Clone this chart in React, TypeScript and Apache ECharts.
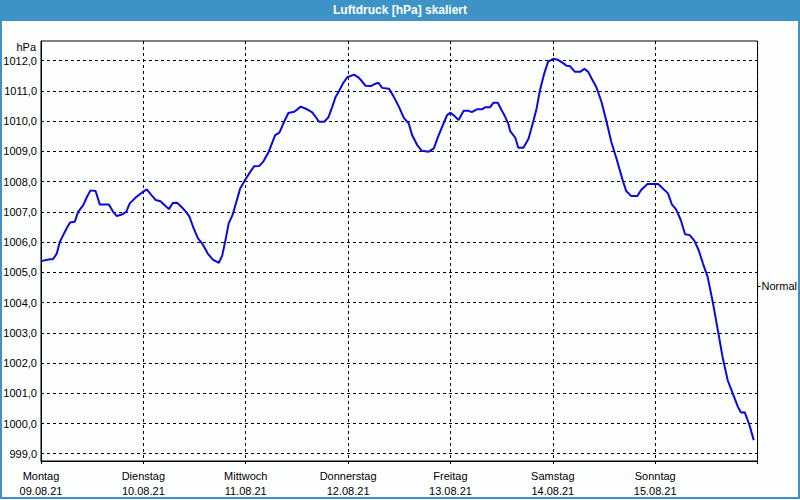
import React, { useEffect, useRef } from "react";
import * as echarts from "echarts";

const dayNames = ["Montag", "Dienstag", "Mittwoch", "Donnerstag", "Freitag", "Samstag", "Sonntag"];
const dayDates = ["09.08.21", "10.08.21", "11.08.21", "12.08.21", "13.08.21", "14.08.21", "15.08.21"];
const yTickValues = [999, 1000, 1001, 1002, 1003, 1004, 1005, 1006, 1007, 1008, 1009, 1010, 1011, 1012];
const normalValue = [1004.55];

// hours since Monday 09.08.21 00:00
const hours = [
  0, 2.1, 2.8, 3.7, 4.4, 5.2, 6.0, 6.8, 7.9, 8.7, 9.9, 10.8, 11.6, 12.8, 13.8, 15.9, 16.9, 17.8, 18.9, 20.0,
  20.8, 22.4, 23.9, 24.8, 25.9, 26.9, 28.0, 29.0, 30.0, 30.9, 31.9, 32.9, 34.0, 34.8, 35.8, 36.8, 37.9, 39.1,
  40.3, 41.7, 42.5, 43.4, 44.0, 44.9, 45.7, 46.7, 48.1, 49.1, 50.0, 51.2, 52.1, 53.4, 54.9, 55.9, 57.0, 58.0,
  59.4, 60.9, 62.1, 63.6, 65.2, 66.4, 67.4, 68.3, 69.1, 69.9, 70.8, 71.8, 73.4, 74.4, 75.3, 76.1, 77.3, 78.3,
  79.1, 80.0, 81.6, 82.7, 83.9, 85.1, 86.2, 87.0, 88.2, 89.3, 90.9, 92.1, 93.1, 94.4, 95.2, 96.0, 97.1, 97.9,
  99.1, 100.3, 101.0, 102.2, 103.4, 104.2, 105.3, 106.1, 107.1, 108.0, 108.8, 109.6, 110.0, 111.2, 111.9,
  113.1, 114.3, 115.4, 116.2, 117.0, 118.0, 118.9, 120.1, 121.3, 122.5, 123.2, 124.0, 125.2, 126.4, 127.4,
  128.3, 129.1, 130.2, 131.4, 132.6, 133.7, 134.9, 135.7, 136.5, 137.2, 138.4, 139.8, 140.7, 142.2, 144.7,
  145.8, 147.0, 147.9, 148.9, 150.0, 151.0, 152.1, 153.2, 154.2, 155.2, 156.3, 157.5, 158.7, 159.8, 161.0,
  162.2, 163.4, 164.1, 165.0, 166.1, 167.1,
];

const pressure = [
  1005.37, 1005.43, 1005.43, 1005.62, 1006.0, 1006.23, 1006.45, 1006.65, 1006.67, 1007.0, 1007.22, 1007.5,
  1007.71, 1007.69, 1007.24, 1007.24, 1007.0, 1006.86, 1006.91, 1007.0, 1007.28, 1007.5, 1007.66, 1007.74,
  1007.55, 1007.39, 1007.35, 1007.22, 1007.09, 1007.29, 1007.3, 1007.17, 1007.0, 1006.84, 1006.45, 1006.12,
  1005.93, 1005.62, 1005.42, 1005.31, 1005.56, 1006.17, 1006.62, 1006.89, 1007.28, 1007.77, 1008.11, 1008.33,
  1008.51, 1008.52, 1008.66, 1008.99, 1009.54, 1009.62, 1009.98, 1010.27, 1010.31, 1010.48, 1010.41, 1010.29,
  1009.98, 1009.98, 1010.13, 1010.48, 1010.81, 1011.0, 1011.25, 1011.45, 1011.54, 1011.45, 1011.31, 1011.17,
  1011.16, 1011.23, 1011.27, 1011.1, 1011.07, 1010.81, 1010.48, 1010.1, 1009.93, 1009.54, 1009.21, 1009.02,
  1008.99, 1009.1, 1009.49, 1009.93, 1010.2, 1010.28, 1010.15, 1010.04, 1010.34, 1010.34, 1010.3, 1010.39,
  1010.39, 1010.46, 1010.46, 1010.61, 1010.61, 1010.36, 1010.15, 1009.9, 1009.67, 1009.45, 1009.12, 1009.12,
  1009.42, 1009.98, 1010.42, 1011.03, 1011.58, 1011.97, 1012.06, 1012.02, 1011.91, 1011.83, 1011.82, 1011.63,
  1011.63, 1011.73, 1011.63, 1011.41, 1011.13, 1010.64, 1009.98, 1009.32, 1008.77, 1008.38, 1007.99, 1007.69,
  1007.52, 1007.52, 1007.72, 1007.92, 1007.92, 1007.77, 1007.61, 1007.25, 1007.08, 1006.73, 1006.26, 1006.23,
  1006.04, 1005.73, 1005.29, 1004.85, 1004.02, 1003.08, 1002.2, 1001.43, 1000.99, 1000.55, 1000.36, 1000.37,
  999.95, 999.45,
];

const FONT = "Liberation Sans";
const Y_MIN = 998.76;
const Y_MAX = 1012.65;

export default function App() {
  const ref = useRef<HTMLDivElement>(null);

  useEffect(() => {
    if (!ref.current) return;
    const chart = echarts.init(ref.current, null, { renderer: "svg" });
    const data = hours.map((h, i) => [h, pressure[i]]);
    chart.setOption({
      animation: false,
      backgroundColor: "#fdfefe",
      textStyle: { fontFamily: FONT },
      graphic: [
        {
          type: "rect",
          shape: { x: 0, y: 0, width: 800, height: 21 },
          style: { fill: "#3d93c5" },
          silent: true,
        },
        {
          type: "rect",
          shape: { x: 1, y: 1, width: 798, height: 497 },
          style: { fill: "none", stroke: "#3d93c5", lineWidth: 2 },
          silent: true,
        },
        {
          type: "text",
          x: 400,
          y: 10,
          style: {
            text: "Luftdruck [hPa] skaliert",
            fill: "#ffffff",
            font: `bold 12px "${FONT}"`,
            textAlign: "center",
            textVerticalAlign: "middle",
          },
          silent: true,
        },
      ],
      grid: {
        left: 41,
        right: 40,
        top: 41,
        bottom: 39,
        show: true,
        borderColor: "#000",
        borderWidth: 1,
        backgroundColor: "transparent",
      },
      xAxis: {
        type: "value",
        min: 0,
        max: 168,
        interval: 24,
        axisLine: { show: true, lineStyle: { color: "#000", width: 1 } },
        axisTick: { show: true, length: 3, lineStyle: { color: "#000" } },
        splitLine: { show: true, lineStyle: { color: "#000", type: [3, 3], width: 1 } },
        axisLabel: {
          color: "#000",
          fontSize: 11,
          fontFamily: FONT,
          lineHeight: 15,
          margin: 7,
          showMaxLabel: true,
          showMinLabel: true,
          formatter: (v: number) => {
            const i = Math.round(v / 24);
            if (i < 0 || i >= dayNames.length) return "";
            return dayNames[i] + "\n" + dayDates[i];
          },
        },
      },
      yAxis: [
        {
          type: "value",
          min: Y_MIN,
          max: Y_MAX,
          name: "hPa",
          nameLocation: "end",
          nameGap: -6,
          nameTextStyle: {
            color: "#000",
            fontSize: 11,
            fontFamily: FONT,
            align: "right",
            verticalAlign: "middle",
            padding: [0, 5, 0, 0],
          },
          axisLine: { show: true, lineStyle: { color: "#000", width: 1 } },
          axisTick: { show: false, customValues: yTickValues },
          splitLine: { show: true, lineStyle: { color: "#000", type: [3, 3], width: 1 } },
          axisLabel: {
            customValues: yTickValues,
            color: "#000",
            fontSize: 11,
            fontFamily: FONT,
            margin: 4,
            formatter: (v: number) => v.toFixed(1).replace(".", ","),
          },
        },
        {
          type: "value",
          position: "right",
          min: Y_MIN,
          max: Y_MAX,
          axisLine: { show: false },
          axisTick: { show: true, customValues: normalValue, length: 3, lineStyle: { color: "#000" } },
          splitLine: { show: false },
          axisLabel: {
            customValues: normalValue,
            color: "#000",
            fontSize: 11,
            fontFamily: FONT,
            margin: 4,
            formatter: () => "Normal",
          },
        },
      ],
      series: [
        {
          type: "line",
          data,
          yAxisIndex: 0,
          showSymbol: false,
          symbol: "none",
          lineStyle: { color: "#0a0ae0", width: 2 },
          itemStyle: { color: "#0a0ae0" },
        },
      ],
    });
    return () => chart.dispose();
  }, []);

  return (
    <div
      ref={ref}
      style={{ position: "absolute", left: 0, top: 0, width: 800, height: 500 }}
    />
  );
}
